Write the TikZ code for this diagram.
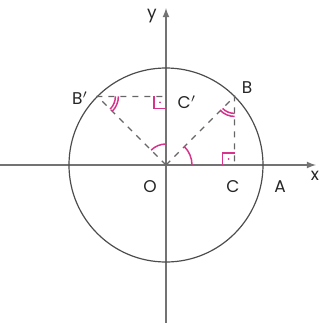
\documentclass[tikz,border=0pt]{standalone}
\usepackage{fontspec}
\setmainfont{Poppins}
\usetikzlibrary{angles,calc}
\definecolor{markpink}{RGB}{214,52,140}
\tikzset{
  axisline/.style={black!55,line width=0.6pt},
  dashline/.style={dashed,black!60,line width=0.6pt},
  anglemark/.style={draw=markpink,line width=0.75pt},
  ptlabel/.style={font=\fontsize{8.5}{10}\selectfont,text=black!85}
}
\begin{document}
\begin{tikzpicture}[x=0.5pt,y=0.5pt]
\useasboundingbox (-166,-158) rectangle (157,165);
% points on the unit circle
\coordinate (O) at (0,0);
\coordinate (A) at (97,0);
\coordinate (B) at (45:97);
\coordinate (Bp) at (135:97);
\coordinate (C) at (B |- O);
\coordinate (Cp) at (O |- Bp);
\coordinate (xl) at (-166,0);
\coordinate (xr) at (150,0);
\coordinate (yb) at (0,-158);
\coordinate (yt) at (0,157);
% axes and circle
\draw[axisline,-latex] (xl) -- (xr);
\draw[axisline,-latex] (yb) -- (yt);
\draw[black!70,line width=0.6pt] (O) circle (97);
% the two right triangles
\draw[dashline] (O) -- (B) -- (C);
\draw[dashline] (O) -- (Bp) -- (Cp);
% angle marks
\pic[anglemark,angle radius=13pt] {angle=C--O--B};
\pic[anglemark,angle radius=10.5pt] {angle=Cp--O--Bp};
\pic[anglemark,angle radius=8.5pt] {angle=O--B--C};
\pic[anglemark,angle radius=10pt] {angle=O--B--C};
\pic[anglemark,angle radius=9pt] {angle=O--Bp--Cp};
\pic[anglemark,angle radius=10.5pt] {angle=O--Bp--Cp};
% right angles
\draw[markpink,line width=0.75pt] ($(C)+(-12,0)$) -- ++(0,12) -- ++(12,0);
\fill[markpink] ($(C)+(-6,6)$) circle (1);
\draw[markpink,line width=0.75pt] ($(Cp)+(-12,0)$) -- ++(0,-12) -- ++(12,0);
\fill[markpink] ($(Cp)+(-6,-6)$) circle (1);
% labels
\node[ptlabel] (lO) at (-16,-22) {O};
\node[ptlabel] (lC) at (67,-22) {C};
\node[ptlabel] (lA) at (114,-22) {A};
\node[ptlabel] (lx) at (149,-11) {x};
\node[ptlabel] (ly) at (-14,149) {y};
\node[ptlabel] (lB) at (81,77) {B};
\node[ptlabel] (lBp) at (-86,67) {B$'$};
\node[ptlabel] (lCp) at (21,63) {C$'$};
\end{tikzpicture}
\end{document}
